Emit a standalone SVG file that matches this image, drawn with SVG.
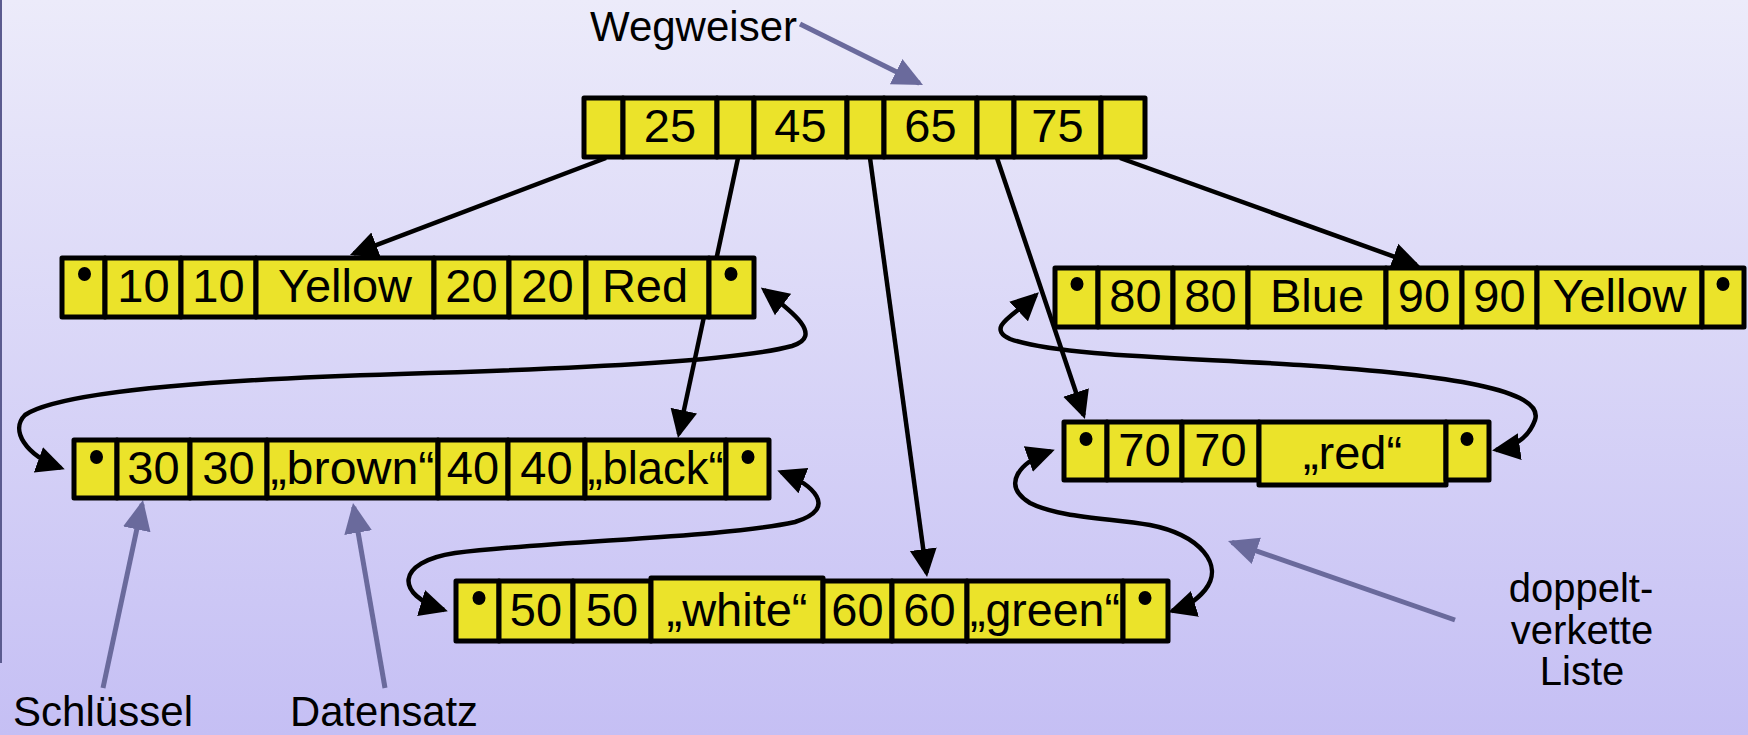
<svg xmlns="http://www.w3.org/2000/svg" width="1748" height="735" viewBox="0 0 1748 735">
<defs>
<linearGradient id="bg" x1="0" y1="0" x2="0" y2="1">
<stop offset="0" stop-color="#ecebfa"/>
<stop offset="1" stop-color="#c5bff4"/>
</linearGradient>
<marker id="ah" markerUnits="userSpaceOnUse" markerWidth="28" markerHeight="28" viewBox="0 0 28 28" refX="24" refY="14" orient="auto-start-reverse">
<path d="M0,0.5 L28,14 L0,27.5 z" fill="#000"/>
</marker>
<marker id="ahs" markerUnits="userSpaceOnUse" markerWidth="30" markerHeight="30" viewBox="0 0 30 30" refX="26" refY="15" orient="auto">
<path d="M0,1 L30,15 L0,29 z" fill="#6a6a9c"/>
</marker>
</defs>
<style>
.cell{fill:#ebe32a;stroke:#000;stroke-width:5;stroke-linejoin:round}
.t{font-family:"Liberation Sans",Arial,sans-serif;font-size:47px;text-anchor:middle;fill:#000}
.lbl{font-family:"Liberation Sans",Arial,sans-serif;font-size:42px;fill:#000}
.lbl2{font-family:"Liberation Sans",Arial,sans-serif;font-size:40px;fill:#000;text-anchor:middle}
.conn{fill:none;stroke:#000;stroke-width:4.5}
.ann{fill:none;stroke:#6a6a9c;stroke-width:5}
</style>
<rect x="0" y="0" width="1748" height="735" fill="url(#bg)"/>
<line x1="1" y1="0" x2="1" y2="663" stroke="#5b5b8f" stroke-width="2"/>

<g id="connectors">
<line class="conn" x1="606" y1="158" x2="353.7" y2="253.6" marker-end="url(#ah)"/>
<line class="conn" x1="738" y1="158" x2="678.8" y2="434.1" marker-end="url(#ah)"/>
<line class="conn" x1="870" y1="158" x2="926.5" y2="573" marker-end="url(#ah)"/>
<line class="conn" x1="997" y1="158" x2="1083.7" y2="415.2" marker-end="url(#ah)"/>
<line class="conn" x1="1120" y1="158" x2="1416.2" y2="264.6" marker-end="url(#ah)"/>
<path class="conn" d="M 764,290 C 793,312 824,336 792,346 C 740,360 600,368 400,374 C 200,380 60,392 25,415 C 10,430 25,455 61,468" marker-start="url(#ah)" marker-end="url(#ah)"/>
<path class="conn" d="M 781,472 C 812,484 840,508 795,522 C 720,538 560,540 455,553 C 395,562 395,595 444,610" marker-start="url(#ah)" marker-end="url(#ah)"/>
<path class="conn" d="M 1036,295 C 1015,315 985,327 1010,339 C 1060,357 1200,358 1300,365 C 1450,375 1545,390 1535,420 C 1528,440 1510,448 1496,450" marker-start="url(#ah)" marker-end="url(#ah)"/>
<path class="conn" d="M 1051,451 C 1020,462 1000,485 1030,503 C 1060,518 1110,518 1150,525 C 1200,535 1225,565 1205,590 C 1195,602 1185,607 1172,611" marker-start="url(#ah)" marker-end="url(#ah)"/>
<line class="ann" x1="800" y1="24" x2="919.4" y2="83.2" marker-end="url(#ahs)"/>
<line class="ann" x1="103" y1="688" x2="142.2" y2="503.9" marker-end="url(#ahs)"/>
<line class="ann" x1="385" y1="688" x2="353.7" y2="506.9" marker-end="url(#ahs)"/>
<line class="ann" x1="1455" y1="620" x2="1231.8" y2="542.3" marker-end="url(#ahs)"/>
</g>

<g id="n_root">
<rect class="cell" x="584" y="98" width="39" height="59"/>
<rect class="cell" x="623" y="98" width="94" height="59"/>
<rect class="cell" x="717" y="98" width="37" height="59"/>
<rect class="cell" x="754" y="98" width="93" height="59"/>
<rect class="cell" x="847" y="98" width="37" height="59"/>
<rect class="cell" x="884" y="98" width="93" height="59"/>
<rect class="cell" x="977" y="98" width="37" height="59"/>
<rect class="cell" x="1014" y="98" width="87" height="59"/>
<rect class="cell" x="1101" y="98" width="44" height="59"/>
<text class="t" x="670" y="142">25</text>
<text class="t" x="800.5" y="142">45</text>
<text class="t" x="930.5" y="142">65</text>
<text class="t" x="1057.5" y="142">75</text>
</g>

<g id="n_l1">
<rect class="cell" x="62" y="258" width="43" height="59"/>
<rect class="cell" x="105" y="258" width="76" height="59"/>
<rect class="cell" x="181" y="258" width="75" height="59"/>
<rect class="cell" x="256" y="258" width="178" height="59"/>
<rect class="cell" x="434" y="258" width="75" height="59"/>
<rect class="cell" x="509" y="258" width="77" height="59"/>
<rect class="cell" x="586" y="258" width="123" height="59"/>
<rect class="cell" x="709" y="258" width="45" height="59"/>
<ellipse cx="84.5" cy="274" rx="6.5" ry="7"/>
<ellipse cx="731" cy="274" rx="6.5" ry="7"/>
<text class="t" x="143.5" y="302">10</text>
<text class="t" x="218.5" y="302">10</text>
<text class="t" x="345" y="302">Yellow</text>
<text class="t" x="471.5" y="302">20</text>
<text class="t" x="547.5" y="302">20</text>
<text class="t" x="645" y="302">Red</text>
</g>

<g id="n_l2">
<rect class="cell" x="74" y="440" width="43" height="58"/>
<rect class="cell" x="117" y="440" width="73" height="58"/>
<rect class="cell" x="190" y="440" width="77" height="58"/>
<rect class="cell" x="267" y="440" width="171" height="58"/>
<rect class="cell" x="438" y="440" width="70" height="58"/>
<rect class="cell" x="508" y="440" width="77" height="58"/>
<rect class="cell" x="585" y="440" width="141" height="58"/>
<rect class="cell" x="726" y="440" width="43" height="58"/>
<ellipse cx="96.5" cy="457" rx="6.5" ry="7"/>
<ellipse cx="748" cy="457" rx="6.5" ry="7"/>
<text class="t" x="153.5" y="484">30</text>
<text class="t" x="228.5" y="484">30</text>
<text class="t" x="352.5" y="484" textLength="164" lengthAdjust="spacingAndGlyphs">„brown“</text>
<text class="t" x="473" y="484">40</text>
<text class="t" x="546.5" y="484">40</text>
<text class="t" x="655.5" y="484" textLength="136" lengthAdjust="spacingAndGlyphs">„black“</text>
</g>

<g id="n_r1">
<rect class="cell" x="1055" y="268" width="43" height="59"/>
<rect class="cell" x="1098" y="268" width="75" height="59"/>
<rect class="cell" x="1173" y="268" width="75" height="59"/>
<rect class="cell" x="1248" y="268" width="138" height="59"/>
<rect class="cell" x="1386" y="268" width="76" height="59"/>
<rect class="cell" x="1462" y="268" width="75" height="59"/>
<rect class="cell" x="1537" y="268" width="165" height="59"/>
<rect class="cell" x="1702" y="268" width="42" height="59"/>
<ellipse cx="1077" cy="284" rx="6.5" ry="7"/>
<ellipse cx="1723" cy="284" rx="6.5" ry="7"/>
<text class="t" x="1135.5" y="312">80</text>
<text class="t" x="1210.5" y="312">80</text>
<text class="t" x="1317" y="312">Blue</text>
<text class="t" x="1424" y="312">90</text>
<text class="t" x="1499.5" y="312">90</text>
<text class="t" x="1619.5" y="312">Yellow</text>
</g>

<g id="n_r2">
<rect class="cell" x="1064" y="422" width="43" height="58"/>
<rect class="cell" x="1107" y="422" width="75" height="58"/>
<rect class="cell" x="1182" y="422" width="77" height="58"/>
<rect class="cell" x="1259" y="422" width="187" height="63"/>
<rect class="cell" x="1446" y="422" width="43" height="58"/>
<ellipse cx="1086" cy="439" rx="6.5" ry="7"/>
<ellipse cx="1467" cy="439" rx="6.5" ry="7"/>
<text class="t" x="1144.5" y="466">70</text>
<text class="t" x="1220.5" y="466">70</text>
<text class="t" x="1352.5" y="469">„red“</text>
</g>

<g id="n_bot">
<rect class="cell" x="456" y="581" width="43" height="60"/>
<rect class="cell" x="499" y="581" width="74" height="60"/>
<rect class="cell" x="573" y="581" width="78" height="60"/>
<rect class="cell" x="651" y="578" width="172" height="63"/>
<rect class="cell" x="823" y="581" width="69" height="60"/>
<rect class="cell" x="892" y="581" width="75" height="60"/>
<rect class="cell" x="967" y="581" width="156" height="60"/>
<rect class="cell" x="1123" y="581" width="45" height="60"/>
<ellipse cx="479" cy="598" rx="6.5" ry="7"/>
<ellipse cx="1145" cy="598" rx="6.5" ry="7"/>
<text class="t" x="536" y="626">50</text>
<text class="t" x="612" y="626">50</text>
<text class="t" x="737" y="626">„white“</text>
<text class="t" x="857.5" y="626">60</text>
<text class="t" x="929.5" y="626">60</text>
<text class="t" x="1045" y="626" textLength="150" lengthAdjust="spacingAndGlyphs">„green“</text>
</g>

<g id="labels">
<text class="lbl" x="590" y="41" textLength="207" lengthAdjust="spacingAndGlyphs">Wegweiser</text>
<text class="lbl" x="13" y="726" textLength="180" lengthAdjust="spacingAndGlyphs">Schlüssel</text>
<text class="lbl" x="290" y="726" textLength="188" lengthAdjust="spacingAndGlyphs">Datensatz</text>
<text class="lbl2" x="1581" y="602">doppelt-</text>
<text class="lbl2" x="1582" y="644">verkette</text>
<text class="lbl2" x="1582" y="685">Liste</text>
</g>
</svg>
